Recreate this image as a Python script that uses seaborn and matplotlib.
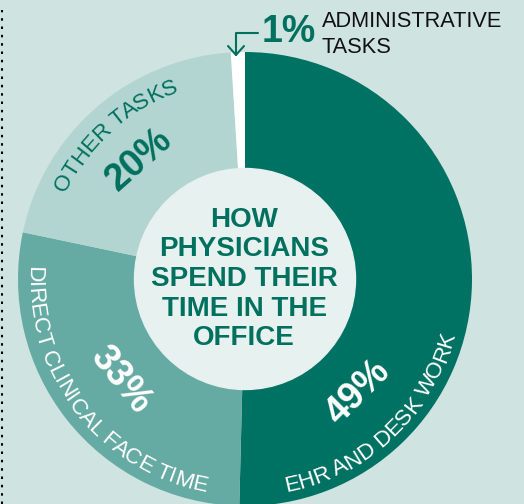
import numpy as np
import matplotlib
matplotlib.use("Agg")
import matplotlib.pyplot as plt
import seaborn as sns
from matplotlib.font_manager import FontProperties
from matplotlib.patches import Circle

# data (slice sizes follow the drawn angles)
categories = ["EHR AND DESK WORK", "DIRECT CLINICAL FACE TIME", "OTHER TASKS", "ADMINISTRATIVE TASKS"]
shares = [50.4, 27.9, 20.7, 1.0]
pct_labels = ["49%", "33%", "20%", "1%"]
title_lines = ["HOW", "PHYSICIANS", "SPEND THEIR", "TIME IN THE", "OFFICE"]

sns.set_theme(style="white")
plt.rcParams["font.family"] = ["Liberation Sans", "DejaVu Sans"]

BG = "#cfe3e0"
TEAL = "#00705f"
colors = ["#007263", "#65aba3", "#b3d5d1", "#ffffff"]
CENTER_BG = "#e7f1ef"

W, H = 524, 504
CX, CY = 245, H - 279   # pie centre (y measured upward)
R = 227

fig = plt.figure(figsize=(W / 100, H / 100), dpi=100, facecolor=BG)
ax = fig.add_axes([0, 0, 1, 1])
ax.set_facecolor(BG)

ax.pie(shares, radius=R, center=(CX, CY), startangle=90, counterclock=False,
       colors=colors, wedgeprops=dict(linewidth=0))
ax.add_patch(Circle((CX, CY), 110.5, color=CENTER_BG, zorder=3))

ax.set_xlim(0, W)
ax.set_ylim(0, H)
ax.set_aspect("auto")
ax.axis("off")

renderer = fig.canvas.get_renderer()


def polar(r, th):
    t = np.radians(th)
    return CX + r * np.sin(t), CY + r * np.cos(t)


def arc_text(s, r, theta_c, top, size, color):
    fp = FontProperties(family=["Liberation Sans"], size=size)
    bar = renderer.get_text_width_height_descent("|", fp, ismath=False)[0]

    def width(t):
        return renderer.get_text_width_height_descent(t + "|", fp, ismath=False)[0] - bar

    total = width(s)
    for i, ch in enumerate(s):
        if ch == " ":
            continue
        mid = (width(s[:i]) + width(s[:i + 1])) / 2 - total / 2
        if top:
            th = theta_c + np.degrees(mid / r)
            rot = -th
        else:
            th = theta_c - np.degrees(mid / r)
            rot = 180 - th
        x, y = polar(r, th)
        ax.text(x, y, ch, rotation=rot, rotation_mode="anchor", ha="center",
                va="baseline", fontproperties=fp, color=color, zorder=5)


# curved category labels
arc_text(categories[0], 217, 137, False, 16.2, "white")
arc_text(categories[1], 217, 232, False, 16.2, "white")
arc_text(categories[2], 199, 318, True, 16.2, TEAL)

# percentages inside the ring
for lab, th, col in [(pct_labels[0], 135, "white"), (pct_labels[1], 231, "white"),
                     (pct_labels[2], 318.5, TEAL)]:
    x, y = polar(160, th)
    rot = -th if th > 270 else 180 - th
    ax.text(x, y, lab, rotation=rot, rotation_mode="anchor", ha="center", va="center",
            fontsize=27, fontweight="bold", color=col, zorder=5)

# centre title
for i, line in enumerate(title_lines):
    ax.text(CX - 1, CY + (2 - i) * 29.5, line, ha="center", va="center",
            fontsize=20, fontweight="bold", color=TEAL, zorder=5)

# administrative callout
ax.text(262, H - 42, pct_labels[3], ha="left", va="baseline", fontsize=27,
        fontweight="bold", color=TEAL)
ax.text(322, H - 27, "ADMINISTRATIVE", ha="left", va="baseline", fontsize=15.7, color="#111111")
ax.text(322, H - 53, "TASKS", ha="left", va="baseline", fontsize=15.7, color="#111111")
ax.plot([258, 236, 236], [H - 33, H - 33, H - 55], color=TEAL, lw=1.5, zorder=6)
ax.plot([228, 236, 244], [H - 46, H - 55, H - 46], color=TEAL, lw=1.5, zorder=6)

# dotted left border
ax.plot([1.5, 1.5], [0, H - 10], color="#000000", lw=1.5, linestyle=(0, (1.2, 2.8)))

fig.savefig("out.png", dpi=100, facecolor=BG)
